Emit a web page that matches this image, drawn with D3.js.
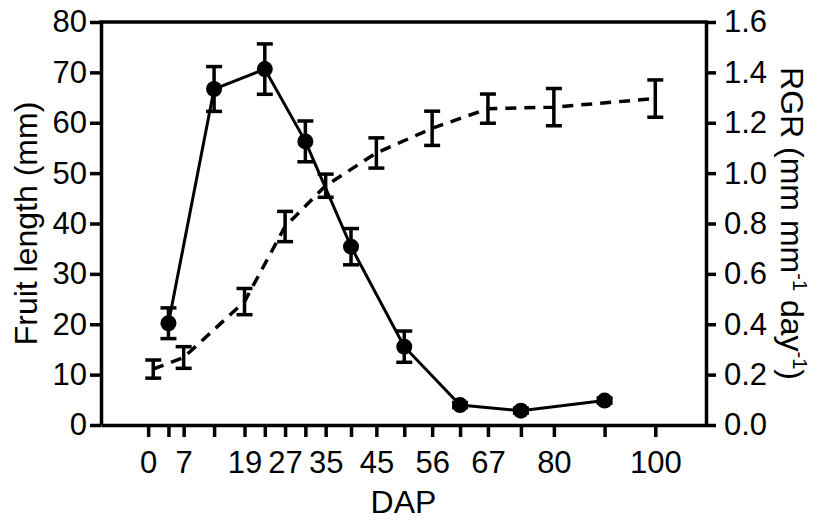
<!DOCTYPE html>
<html>
<head>
<meta charset="utf-8">
<script src="https://cdn.jsdelivr.net/npm/d3@7"></script>
<style>
  body { margin: 0; background: #fff; }
  svg { display: block; font-family: "Liberation Sans", Arial, sans-serif; }
</style>
</head>
<body>
<svg id="chart"></svg>
<script>
// sampling days and fruit length (mm) +- error
let lenDays = [1, 7, 19, 27, 35, 45, 56, 67, 80, 100]
let lenVals = [11.1, 13.4, 24.5, 39.4, 47.5, 54.0, 58.9, 62.8, 63.1, 64.8]
let lenErr  = [1.8, 2.15, 2.6, 3.0, 2.3, 3.0, 3.4, 2.9, 3.7, 3.7]

// RGR plotted at the middle of each interval
let rgrDays = [4, 13, 23, 31, 40, 50.5, 61.5, 73.5, 90]
let rgrVals = [0.404, 1.334, 1.413, 1.126, 0.708, 0.311, 0.079, 0.057, 0.097]
let rgrErr  = [0.061, 0.089, 0.10, 0.081, 0.072, 0.062, 0.01, 0.01, 0.01]

let xTicks = [0, 4, 7, 13, 19, 23, 27, 31, 35, 40, 45, 50.5, 56, 61.5, 67, 73.5, 80, 90, 100]
let xLabels = [0, 7, 19, 27, 35, 45, 56, 67, 80, 100]
let leftTicks = [0, 10, 20, 30, 40, 50, 60, 70, 80]
let rightTicks = [0, 0.2, 0.4, 0.6, 0.8, 1.0, 1.2, 1.4, 1.6]

let width = 819
let height = 524
let padL = 101, padR = 706, padT = 22, padB = 425

let svg = d3.select('#chart').attr('width', width).attr('height', height)

let xScale = d3.scaleLinear().domain([-9.3, 110]).range([padL, padR])
let yLen = d3.scaleLinear().domain([0, 80]).range([padB, padT])
let yRgr = d3.scaleLinear().domain([0, 1.6]).range([padB, padT])

let styleAxis = (g) => {
  g.selectAll('path').attr('stroke', '#000').attr('stroke-width', 3.5)
  g.selectAll('.tick line').attr('stroke', '#000').attr('stroke-width', 3.5)
  g.selectAll('text').attr('font-size', 31).attr('fill', '#000')
    .attr('font-family', '"Liberation Sans", Arial, sans-serif')
}

// x axis
let xAxis = d3.axisBottom(xScale)
  .tickValues(xTicks)
  .tickSize(12).tickSizeOuter(0)
  .tickPadding(14)
  .tickFormat(d => xLabels.includes(d) ? d : '')
svg.append('g').attr('transform', 'translate(0,' + padB + ')').call(xAxis).call(styleAxis)

// left axis
let yAxisL = d3.axisLeft(yLen).tickValues(leftTicks).tickSize(11).tickSizeOuter(0).tickPadding(3)
svg.append('g').attr('transform', 'translate(' + padL + ',0)').call(yAxisL).call(styleAxis)

// right axis
let yAxisR = d3.axisRight(yRgr).tickValues(rightTicks).tickSize(10).tickSizeOuter(0).tickPadding(8)
  .tickFormat(d3.format('.1f'))
svg.append('g').attr('transform', 'translate(' + padR + ',0)').call(yAxisR).call(styleAxis)

// top frame line
svg.append('line')
  .attr('x1', padL - 1.75).attr('x2', padR + 1.75)
  .attr('y1', padT).attr('y2', padT)
  .attr('stroke', '#000').attr('stroke-width', 3.5)

// fruit length: dashed line with error bars
let lenData = lenDays.map((d, i) => ({x: d, y: lenVals[i], e: lenErr[i]}))
svg.append('path')
  .datum(lenData)
  .attr('fill', 'none')
  .attr('stroke', '#000')
  .attr('stroke-width', 3.5)
  .attr('stroke-dasharray', '11,8')
  .attr('d', d3.line().x(d => xScale(d.x)).y(d => yLen(d.y)))

let lenBars = svg.selectAll('.lenbar').data(lenData).enter().append('g').attr('class', 'lenbar')
lenBars.append('line')
  .attr('x1', d => xScale(d.x)).attr('x2', d => xScale(d.x))
  .attr('y1', d => yLen(d.y - d.e)).attr('y2', d => yLen(d.y + d.e))
  .attr('stroke', '#000').attr('stroke-width', 3.5)
lenBars.selectAll('.cap').data(d => [[d.x, d.y - d.e], [d.x, d.y + d.e]]).enter().append('line')
  .attr('x1', d => xScale(d[0]) - 8).attr('x2', d => xScale(d[0]) + 8)
  .attr('y1', d => yLen(d[1])).attr('y2', d => yLen(d[1]))
  .attr('stroke', '#000').attr('stroke-width', 3.5)

// RGR: solid line, filled circles, error bars
let rgrData = rgrDays.map((d, i) => ({x: d, y: rgrVals[i], e: rgrErr[i]}))
svg.append('path')
  .datum(rgrData)
  .attr('fill', 'none')
  .attr('stroke', '#000')
  .attr('stroke-width', 3)
  .attr('d', d3.line().x(d => xScale(d.x)).y(d => yRgr(d.y)))

let rgrBars = svg.selectAll('.rgrbar').data(rgrData).enter().append('g').attr('class', 'rgrbar')
rgrBars.append('line')
  .attr('x1', d => xScale(d.x)).attr('x2', d => xScale(d.x))
  .attr('y1', d => yRgr(d.y - d.e)).attr('y2', d => yRgr(d.y + d.e))
  .attr('stroke', '#000').attr('stroke-width', 3.5)
rgrBars.selectAll('.cap').data(d => [[d.x, d.y - d.e], [d.x, d.y + d.e]]).enter().append('line')
  .attr('x1', d => xScale(d[0]) - 8).attr('x2', d => xScale(d[0]) + 8)
  .attr('y1', d => yRgr(d[1])).attr('y2', d => yRgr(d[1]))
  .attr('stroke', '#000').attr('stroke-width', 3.5)
svg.selectAll('.dot').data(rgrData).enter().append('circle')
  .attr('cx', d => xScale(d.x)).attr('cy', d => yRgr(d.y))
  .attr('r', 8).attr('fill', '#000')

// axis titles
svg.append('text')
  .attr('x', (padL + padR) / 2).attr('y', 513)
  .attr('text-anchor', 'middle').attr('font-size', 32)
  .text('DAP')

svg.append('text')
  .attr('transform', 'translate(37,' + ((padT + padB) / 2) + ') rotate(-90)')
  .attr('text-anchor', 'middle').attr('font-size', 32)
  .text('Fruit length (mm)')

let rt = svg.append('text')
  .attr('transform', 'translate(781,' + ((padT + padB) / 2) + ') rotate(90)')
  .attr('text-anchor', 'middle').attr('font-size', 32)
rt.append('tspan').text('RGR (mm mm')
rt.append('tspan').attr('font-size', 20).attr('dy', -12).text('-1')
rt.append('tspan').attr('dy', 12).text(' day')
rt.append('tspan').attr('font-size', 20).attr('dy', -12).text('-1')
rt.append('tspan').attr('dy', 12).text(')')
</script>
</body>
</html>
